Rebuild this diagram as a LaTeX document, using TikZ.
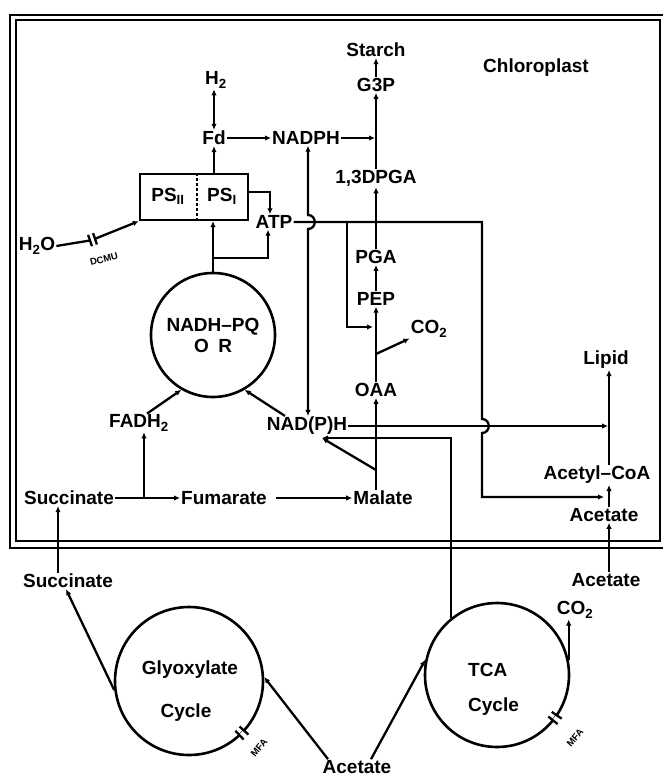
\documentclass[tikz,border=0pt]{standalone}
\usepackage{fontspec}
\setmainfont{Liberation Sans}
\usetikzlibrary{arrows.meta,positioning,calc}
\newcommand{\metfont}{\fontsize{19}{21}\selectfont\bfseries}
\newcommand{\inhfont}{\fontsize{9.5}{10}\selectfont\bfseries}
\tikzset{
  met/.style={font=\metfont,inner sep=1pt},
  ring/.style={draw,circle,line width=2.6pt,inner sep=0pt},
  arrow/.style={-{Latex[length=6pt,width=5.5pt]},line width=2.3pt},
  dblarrow/.style={{Latex[length=6pt,width=5.5pt]}-{Latex[length=6pt,width=5.5pt]},line width=2.3pt},
  link/.style={line width=2.3pt},
  bar/.style={line width=2.3pt},
  inhlabel/.style={font=\inhfont,inner sep=0pt}
}

\begin{document}
\begin{tikzpicture}[x=1pt,y=-1pt]
  \useasboundingbox (0,0) rectangle (663,783);
  % chloroplast envelope
  \draw[line width=2.6pt] (663,15) -- (10,15) -- (10,548) -- (663,548);
  \draw[line width=1.6pt] (16,20) rectangle (660,541);
  \node[met] (chl) at (536,68) {Chloroplast};

  % light reactions
  \node[met] (htwo) at (216,80) {H\textsubscript{2}};
  \node[met] (fd) at (214,138) {Fd};
  \node[met] (nadph) at (306,138) {NADPH};
  \node[draw,line width=2.3pt,minimum width=108pt,minimum height=46pt,inner sep=0pt] (psbox) at (194,197) {};
  \node[met] (pstwo) at (168,196) {PS\textsubscript{II}};
  \node[met] (psone) at (222,196) {PS\textsubscript{I}};
  \draw[line width=2pt,dash pattern=on 3pt off 2pt] ($(psbox.north west)!0.53!(psbox.north east)$) -- ($(psbox.south west)!0.53!(psbox.south east)$);
  \node[met] (atp) at (274,222) {ATP};
  \node[met] (water) at (37,246) {H\textsubscript{2}O};
  \node[ring,minimum size=124pt,align=center,font=\metfont] (nadhpq) at (213,335) {NADH--PQ\\O\enspace R};

  % carbon metabolism
  \node[met] (starch) at (376,50) {Starch};
  \node[met] (gtp) at (376,85) {G3P};
  \node[met] (dpga) at (376,178) {1,3DPGA};
  \node[met] (pga) at (376,257) {PGA};
  \node[met] (pep) at (376,299) {PEP};
  \node[met] (cotwo) at (429,329) {CO\textsubscript{2}};
  \node[met] (oaa) at (376,390) {OAA};
  \node[met] (lipid) at (606,360) {Lipid};
  \node[met] (acoa) at (597,475) {Acetyl--CoA};
  \node[met] (acin) at (604,515) {Acetate};
  \node[met] (acout) at (606,580) {Acetate};
  \node[met] (succ) at (69,498) {Succinate};
  \node[met] (fum) at (224,498) {Fumarate};
  \node[met] (mal) at (383,498) {Malate};
  \node[met] (fadh) at (139,423) {FADH\textsubscript{2}};
  \node[met] (nadp) at (307,426) {NAD(P)H};
  \node[met] (succout) at (68,581) {Succinate};

  % cytosolic cycles
  \node[ring,minimum size=148pt] (glyox) at (189,681) {};
  \node[met] (glyoxa) at (190,670) {Glyoxylate};
  \node[met] (glyoxb) at (186,713) {Cycle};
  \node[ring,minimum size=144pt] (tca) at (497,675) {};
  \node[met,anchor=west] (tcaa) at (467,670) {TCA};
  \node[met,anchor=west] (tcab) at (467,707) {Cycle};
  \node[met] (cotwob) at (575,610) {CO\textsubscript{2}};
  \node[met] (acbot) at (357,767) {Acetate};

  \coordinate (hopa) at (308,222);
  \coordinate (atpr) at (482,222);
  \coordinate (hopb) at (nadp.east -| atpr);
  \coordinate (lx) at (609,0);
  \coordinate (acjoin) at (604,497);
  \coordinate (pepr) at (347,222);
  \coordinate (pepin) at (373,327);
  \coordinate (cobr) at (376,354);
  \coordinate (malup) at (376,470);
  \coordinate (npin) at (322,438);
  \coordinate (split) at (213,258);
  \coordinate (fadhbr) at (144,498);
  \coordinate (sx) at (58,0);
  \coordinate (dcmua) at (90,240.5);
  \coordinate (dcmub) at (95,238.8);

  \draw[dblarrow] (htwo.south -| fd.north) -- (fd.north);
  \draw[arrow] (fd.east) -- (nadph.west);
  \draw[arrow] (fd.south |- psbox.north) -- (fd.south);
  \draw[arrow] ($(psbox.north east)!0.4!(psbox.south east)$) -| ($(atp.north)+(-4,0)$);
  \draw[arrow] (nadhpq.north) -- (nadhpq.north |- psbox.south);
  \draw[arrow] (split) -| ($(atp.south)+(-6,0)$);
  \draw[link] (water.east) -- (dcmua);
  \draw[arrow] (dcmub) -- (psbox.south west);
  \draw[bar] ($(dcmua)!6pt!90:(dcmub)$) -- ($(dcmua)!6pt!-90:(dcmub)$);
  \draw[bar] ($(dcmub)!6pt!90:(dcmua)$) -- ($(dcmub)!6pt!-90:(dcmua)$);
  \node[inhlabel,rotate=15] (dcmu) at (104,259) {DCMU};
  \draw[dblarrow] (nadph.south -| hopa) -- ($(hopa)+(0,-7)$) .. controls +(9,0) and +(9,0) .. ($(hopa)+(0,7)$) -- (nadp.north -| hopa);

  % ATP distribution
  \draw[arrow] (atp.east) -- (atpr) -- ($(hopb)+(0,-7)$) .. controls +(9,0) and +(9,0) .. ($(hopb)+(0,7)$) |- (acjoin);
  \draw[arrow] (pepr) |- (pepin);

  % Calvin cycle and gluconeogenesis
  \draw[arrow] (pga.north) -- (dpga.south);
  \draw[arrow] (dpga.north) -- (gtp.south);
  \draw[arrow] (gtp.north) -- (starch.south);
  \draw[arrow,shorten >=1pt] (nadph.east) -- (nadph.east -| gtp.south);
  \draw[arrow] (pep.north) -- (pga.south);
  \draw[arrow] (oaa.north) -- (pep.south);
  \draw[arrow] (cobr) -- (cotwo.south west);
  \draw[arrow] (mal.north -| oaa) -- (oaa.south);
  \draw[arrow] (malup) -- (npin);
  \draw[arrow] (tca.129) |- (npin);
  \draw[arrow,shorten >=1pt] (nadp.east) -- (nadp.east -| lx);

  % lipid
  \draw[arrow] (acoa.north -| lx) -- (lipid.south -| lx);
  \draw[arrow] (acin.north -| lx) -- (acoa.south -| lx);
  \draw[arrow] (acout.north -| lx) -- (acin.south -| lx);

  % succinate route
  \draw[arrow] (succ.east) -- (fum.west);
  \draw[arrow] (fadhbr) -- (fadhbr |- fadh.south);
  \draw[arrow] ($(fadh.north)+(8,0)$) -- (nadhpq.240);
  \draw[arrow] ($(nadp.north)+(-22,0)$) -- (nadhpq.300);
  \draw[arrow,shorten <=8pt] (fum.east) -- (mal.west);
  \draw[arrow] (succout.north -| sx) -- (succ.south -| sx);
  \draw[arrow] (glyox.187) -- ($(succout.south)+(-2,0)$);

  % acetate uptake
  \draw[arrow] ($(acbot.north)+(-29,0)$) -- (glyox.3);
  \draw[arrow] ($(acbot.north)+(14,0)$) -- (tca.168);
  \draw[arrow] (tca.12) -- (tca.12 |- cotwob.south);

  % MFA blocks
  \draw[white,line width=4pt] (glyox.-42) -- (glyox.-47);
  \draw[bar] ($(glyox.center)!68pt!(glyox.-42)$) -- ($(glyox.center)!80pt!(glyox.-42)$);
  \draw[bar] ($(glyox.center)!68pt!(glyox.-47)$) -- ($(glyox.center)!80pt!(glyox.-47)$);
  \node[inhlabel,rotate=50] (mfaa) at (259,748) {MFA};
  \draw[white,line width=4pt] (tca.-34) -- (tca.-39);
  \draw[bar] ($(tca.center)!66pt!(tca.-34)$) -- ($(tca.center)!78pt!(tca.-34)$);
  \draw[bar] ($(tca.center)!66pt!(tca.-39)$) -- ($(tca.center)!78pt!(tca.-39)$);
  \node[inhlabel,rotate=50] (mfab) at (575,738) {MFA};
\end{tikzpicture}
\end{document}
